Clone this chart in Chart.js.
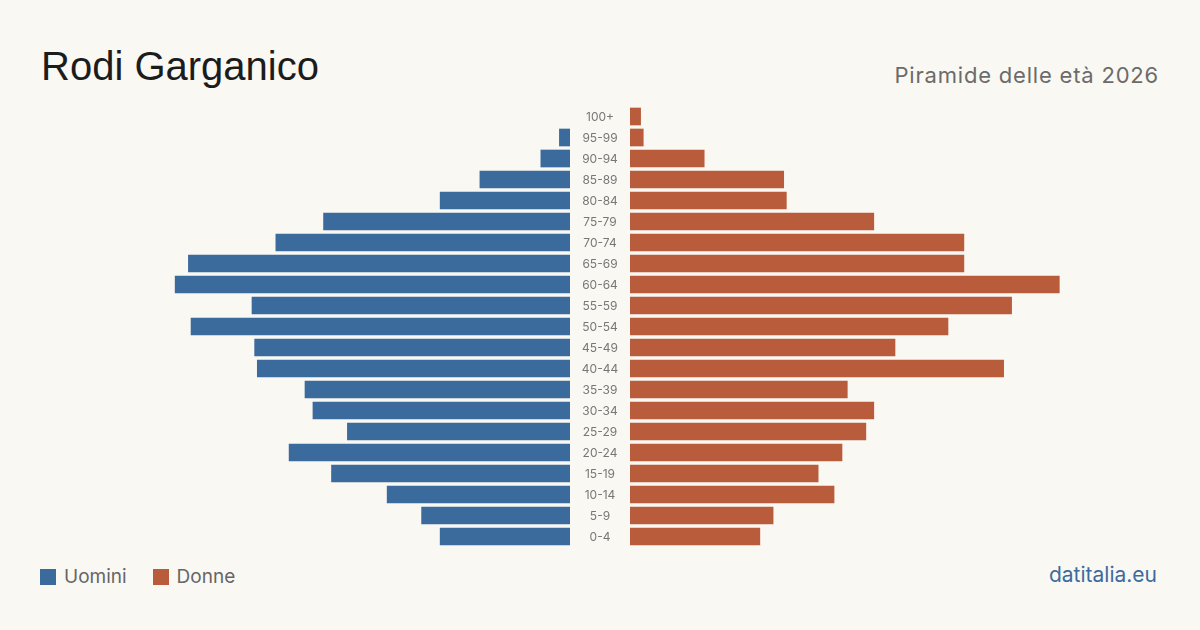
<!DOCTYPE html>
<html lang="it">
<head>
<meta charset="utf-8">
<script src="https://cdn.jsdelivr.net/npm/chart.js@4/dist/chart.umd.min.js"></script>
<style>
    html, body { margin: 0; padding: 0; }
    body { width: 1200px; height: 630px; background: #faf8f3; position: relative; overflow: hidden; font-family: Inter, "Noto Sans", sans-serif; }
    .title { position: absolute; left: 41px; top: 44px; font-family: "Liberation Sans", Arial, sans-serif; font-size: 40px; color: #1c1c1c; }
    .subtitle { position: absolute; right: 41px; top: 62px; font-size: 22px; letter-spacing: 0.8px; color: #6b6b6b; }
    .box { position: absolute; }
    #leftBox { left: 40px; top: 106px; width: 590px; height: 441px; }
    #rightBox { left: 630px; top: 106px; width: 530px; height: 441px; }
    .legend { position: absolute; left: 40px; top: 565px; font-size: 19px; color: #666; display: flex; align-items: center; }
    .legend span.sw { display: inline-block; width: 16px; height: 16px; margin-right: 8px; }
    .legend .item { display: flex; align-items: center; margin-right: 26px; }
    .source { position: absolute; right: 43px; top: 562px; font-size: 21px; color: #3d6b9e; }
</style>
</head>
<body>
<div class="title">Rodi Garganico</div>
<div class="subtitle">Piramide delle età 2026</div>
<div class="box" id="leftBox"><canvas id="menChart"></canvas></div>
<div class="box" id="rightBox"><canvas id="womenChart"></canvas></div>
<div class="legend">
    <div class="item"><span class="sw" style="background:#3b6a9c"></span>Uomini</div>
    <div class="item"><span class="sw" style="background:#b85c3c"></span>Donne</div>
</div>
<div class="source">datitalia.eu</div>

<script>
const ageGroups = ['100+', '95-99', '90-94', '85-89', '80-84', '75-79', '70-74', '65-69', '60-64', '55-59',
    '50-54', '45-49', '40-44', '35-39', '30-34', '25-29', '20-24', '15-19', '10-14', '5-9', '0-4'];
const men = [0, 4, 11, 34, 49, 93, 111, 144, 149, 120, 143, 119, 118, 100, 97, 84, 106, 90, 69, 56, 49];
const women = [4, 5, 28, 58, 59, 92, 126, 126, 162, 144, 120, 100, 141, 82, 92, 89, 80, 71, 77, 54, 49];
const axisMax = 200;

const blue = '#3b6a9c';
const red = '#b85c3c';

// age labels drawn in the gap between the two halves
const ageLabels = {
    id: 'ageLabels',
    afterDraw(chart) {
        const { ctx, chartArea, scales } = chart;
        ctx.save();
        ctx.fillStyle = '#777';
        ctx.font = '12px Inter';
        ctx.textAlign = 'center';
        ctx.textBaseline = 'middle';
        ageGroups.forEach((label, i) => {
            ctx.fillText(label, chartArea.right + 30, scales.y.getPixelForValue(i) + 1);
        });
        ctx.restore();
    }
};

const commonOptions = {
    indexAxis: 'y',
    responsive: true,
    maintainAspectRatio: false,
    animation: false,
    plugins: { legend: { display: false }, tooltip: { enabled: false } }
};

new Chart(document.getElementById('menChart'), {
    type: 'bar',
    data: {
        labels: ageGroups,
        datasets: [{ label: 'Uomini', data: men.map(v => v || null), backgroundColor: blue, barThickness: 17 }]
    },
    options: {
        ...commonOptions,
        layout: { padding: { left: 0, right: 60, top: 0, bottom: 0 } },
        scales: {
            x: { min: 0, max: axisMax, reverse: true, display: false },
            y: { display: false }
        }
    },
    plugins: [ageLabels]
});

new Chart(document.getElementById('womenChart'), {
    type: 'bar',
    data: {
        labels: ageGroups,
        datasets: [{ label: 'Donne', data: women, backgroundColor: red, barThickness: 17 }]
    },
    options: {
        ...commonOptions,
        layout: { padding: 0 },
        scales: {
            x: { min: 0, max: axisMax, display: false },
            y: { display: false }
        }
    }
});
</script>
</body>
</html>
